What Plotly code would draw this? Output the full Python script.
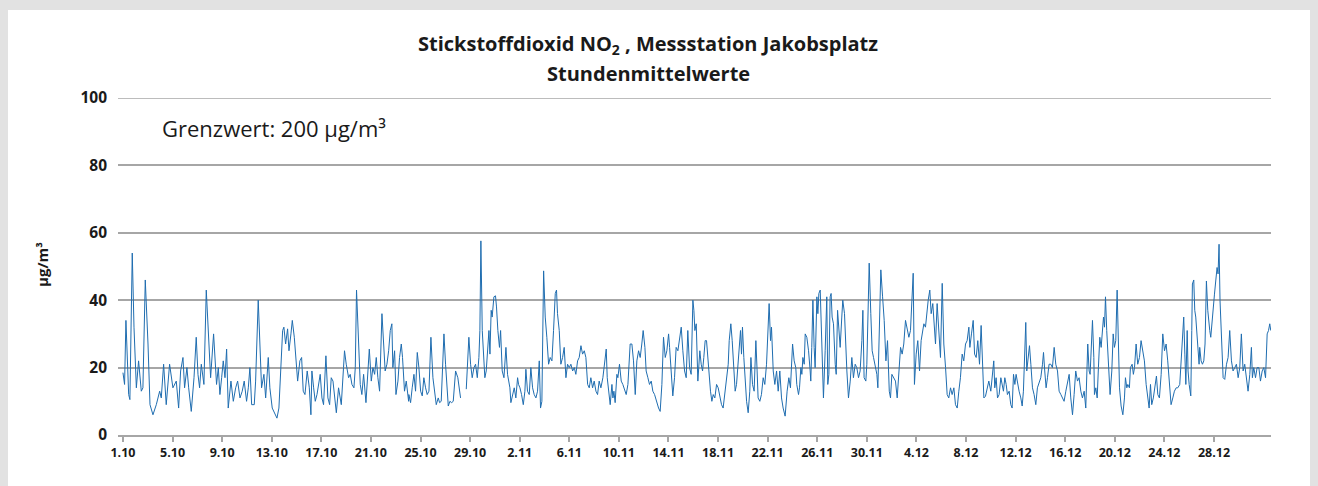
import plotly.graph_objects as go

tick_labels = ["1.10", "5.10", "9.10", "13.10", "17.10", "21.10", "25.10", "29.10",
               "2.11", "6.11", "10.11", "14.11", "18.11", "22.11", "26.11", "30.11",
               "4.12", "8.12", "12.12", "16.12", "20.12", "24.12", "28.12"]
tick_days = [0, 4, 8, 12, 16, 20, 24, 28, 32, 36, 40, 44, 48, 52, 56, 60, 64, 68, 72, 76, 80, 84, 88]

# time in days since 1.10 00:00, NO2 hourly means in µg/m³
s1_t = [0.0, 0.13, 0.24, 0.46, 0.56, 0.75, 0.89, 1.08, 1.26, 1.48, 1.61, 1.8, 2.02, 2.18, 2.42,
        2.69, 2.96, 3.09, 3.28, 3.49, 3.76, 4.03, 4.3, 4.49, 4.65, 4.84, 4.97, 5.16, 5.3, 5.51,
        5.73, 5.91, 6.05, 6.18, 6.32, 6.53, 6.72, 6.94, 7.07, 7.31]
s1_v = [18.5, 15, 34, 12, 10.5, 54, 32, 14, 22, 13, 14, 46, 27, 9, 6,
        9, 13, 11, 21, 9, 21, 14, 16, 8, 19, 23, 14, 20, 14, 7,
        17, 29, 18, 14, 21, 15, 43, 28, 17, 30]

s2_t = [7.42, 7.55, 7.69, 7.82, 7.96, 8.09, 8.23, 8.36, 8.49, 8.71, 8.9, 9.09, 9.25, 9.44, 9.62,
        9.78, 9.97, 10.11, 10.24, 10.38, 10.59, 10.70, 10.91, 11.05, 11.18, 11.37, 11.51, 11.72, 11.85, 12.04,
        12.26, 12.42, 12.58, 12.74, 12.88, 12.98, 13.12, 13.28, 13.39, 13.55, 13.66, 13.82, 13.92, 14.09, 14.27,
        14.41, 14.54, 14.68, 14.86, 15.03, 15.16]
s2_v = [21, 15, 20, 12, 17, 22, 17, 25.5, 8, 16, 10, 14, 16, 11, 13,
        16, 10, 14, 20, 9, 9, 16, 40, 28, 14, 18, 11, 23, 14, 8,
        6, 5, 8, 21, 31, 32, 27, 31.5, 25, 30, 34, 29, 23, 16, 22,
        23, 13, 12, 19, 14, 6]

s3_t = [15.24, 15.38, 15.51, 15.65, 15.78, 15.91, 16.05, 16.18, 16.37, 16.53, 16.67, 16.8, 16.94, 17.07, 17.21,
        17.39, 17.61, 17.79, 17.87, 18.01, 18.2, 18.33, 18.47, 18.63, 18.74, 18.84, 19.0, 19.14, 19.27, 19.41,
        19.6, 19.76, 19.87, 20.03, 20.16, 20.3, 20.43, 20.56, 20.7, 20.89, 21.02, 21.15, 21.29, 21.43, 21.56,
        21.69, 21.77, 21.91, 22.02, 22.18, 22.31, 22.45, 22.55, 22.71, 22.85, 23.04]
s3_v = [19, 14, 10, 12, 15, 18, 11, 9, 23.5, 11, 9, 17, 16, 11, 6.6,
        14, 9, 20, 25, 21, 17, 18, 15, 14, 20, 43, 28, 15, 12, 18,
        9.6, 19, 25.5, 16, 20, 18, 23, 17, 13, 36, 28, 19, 21, 25, 31,
        33, 20, 25, 12, 16, 23, 27, 23, 13, 16, 10]

s4_t = [23.06, 23.2, 23.33, 23.47, 23.6, 23.74, 23.87, 24.01, 24.14, 24.27, 24.41, 24.54, 24.68, 24.84, 25.0,
        25.11, 25.27, 25.43, 25.54, 25.67, 25.75, 25.89, 26.02, 26.15, 26.24, 26.37, 26.51, 26.64, 26.83, 27.01,
        27.15, 27.23, 27.45, 27.69, 27.8, 27.9, 28.04, 28.17, 28.31, 28.44, 28.58, 28.71, 28.79, 28.87, 28.98,
        29.11, 29.19, 29.3, 29.41, 29.52, 29.6, 29.7, 29.78, 29.92, 30.05, 30.13, 30.24, 30.37, 30.46, 30.59,
        30.73]
s4_v = [12, 9.6, 14, 18, 13, 24.5, 20, 13, 11.6, 17, 14, 12, 13, 29, 17,
        13, 9, 11, 9.6, 10, 19, 30, 21, 14, 8.6, 10, 9.6, 10, 19, 17,
        12, 11, None, 13.6, 23, 29, 21, 17, 20, 21, 17, 23, 31, 57.6, 31,
        20, 17, 19, 24, 31, 24, 37, 35, 41, 41.3, 38, 31, 26, 31, 19,
        17]

s5_t = [30.89, 31.02, 31.1, 31.21, 31.29, 31.42, 31.56, 31.69, 31.83, 31.91, 32.02, 32.15, 32.29, 32.42, 32.5,
        32.63, 32.77, 32.9, 33.04, 33.17, 33.31, 33.44, 33.58, 33.68, 33.79, 33.93, 34.06, 34.19, 34.33, 34.46,
        34.6, 34.73, 34.87, 34.97, 35.05, 35.19, 35.32, 35.46, 35.59, 35.73, 35.86, 36.0, 36.13, 36.27, 36.4,
        36.53, 36.67, 36.8, 36.94, 37.07, 37.21, 37.34, 37.48, 37.61, 37.74, 37.88, 38.01, 38.15, 38.28, 38.41,
        38.55]
s5_v = [26, 18, 16, 14, 9.6, 12, 14, 11, 17, 15, 14, 12, 9, 13, 19.5,
        13, 12, 20, 14, 12, 11, 13, 22, 8, 10, 48.7, 35, 29, 21, 23,
        22, 31, 42, 43, 36, 31, 21, 23, 26, 17, 21, 20, 21, 19, 20,
        18, 22, 23, 26.5, 24, 25, 23, 15, 14, 17, 14, 16, 13, 12, 16,
        14]

s6_t = [38.71, 38.84, 38.98, 39.06, 39.19, 39.3, 39.44, 39.52, 39.6, 39.7, 39.84, 39.92, 40.05, 40.19, 40.32,
        40.46, 40.59, 40.73, 40.81, 40.91, 41.05, 41.18, 41.32, 41.45, 41.59, 41.72, 41.85, 41.96, 42.1, 42.2,
        42.34, 42.47, 42.61, 42.74, 42.88, 43.01, 43.2, 43.33, 43.47, 43.6, 43.74, 43.87, 44.01, 44.09, 44.23,
        44.35, 44.49, 44.62, 44.76, 44.89, 45.03, 45.16, 45.3, 45.43, 45.56, 45.7, 45.83, 45.97, 46.05, 46.13,
        46.24, 46.37]
s6_v = [17, 21, 25.5, 17, 13, 9, 15, 11, 13, 9.6, 18, 17, 21, 16, 15,
        13, 12, 15, 21, 27, 27, 22, 12, 22, 25, 23, 27, 31, 26, 19,
        17, 15, 16, 13, 12, 10, 8, 7, 15, 29, 23, 25, 30, 26, 17,
        11.6, 17, 26, 25, 29, 32, 25, 19, 17, 31, 20, 18, 40, 37, 31,
        33, 16]

s7_t = [46.53, 46.64, 46.75, 46.85, 46.96, 47.07, 47.18, 47.28, 47.39, 47.5, 47.61, 47.74, 47.88, 48.01, 48.15,
        48.28, 48.41, 48.55, 48.68, 48.82, 48.9, 49.03, 49.14, 49.27, 49.38, 49.49, 49.62, 49.71, 49.81, 49.89,
        49.97, 50.08, 50.16, 50.3, 50.43, 50.56, 50.65, 50.78, 50.91, 51.05, 51.15, 51.23, 51.37, 51.5, 51.64,
        51.77, 51.91, 52.04, 52.12, 52.23, 52.31, 52.45, 52.58, 52.72, 52.85, 52.98, 53.12, 53.25, 53.41, 53.57,
        53.71, 53.84, 54.01, 54.14, 54.27]
s7_v = [25, 21, 19, 23, 28, 28, 22, 16, 13, 10, 12, 11, 15, 14, 11,
        9, 8, 13, 17, 21, 28, 33, 28, 19, 13, 15, 23, 26, 31, 24,
        32, 23, 18, 10, 6.6, 13, 23, 15, 13, 28, 19, 11, 10, 12, 17,
        15, 21, 31, 39, 28, 32, 19, 15, 19, 13, 19, 11, 8, 5.6, 13,
        17, 14, 27, 22, 20]

s8_t = [54.35, 54.49, 54.57, 54.68, 54.76, 54.84, 54.95, 55.03, 55.16, 55.3, 55.43, 55.48, 55.56, 55.65, 55.75,
        55.83, 55.97, 56.05, 56.13, 56.24, 56.37, 56.5, 56.64, 56.77, 56.85, 56.94, 57.04, 57.12, 57.2, 57.31,
        57.45, 57.53, 57.64, 57.74, 57.85, 57.98, 58.06, 58.2, 58.33, 58.39, 58.52, 58.66, 58.79, 58.92, 59.06,
        59.19, 59.33, 59.46, 59.6, 59.68, 59.78, 59.92, 60.0, 60.08, 60.19, 60.32, 60.43, 60.54, 60.67, 60.81,
        60.89, 61.02, 61.13, 61.27, 61.4, 61.54, 61.67, 61.81, 61.91, 62.02]
s8_v = [15, 12, 14, 20, 18, 23, 21, 30, 29, 25, 19, 16, 26, 40, 26,
        20, 41, 36, 42, 43, 27, 11, 25, 41, 15, 18, 41, 42, 35, 33,
        21, 18, 37, 31, 26, 35, 40, 36, 23, 19, 11, 16, 23, 17, 21,
        20, 17, 19, 28, 37, 17, 16, 21, 38, 51, 36, 25, 23, 20, 18,
        14, 31, 49, 41, 34, 22, 28, 13, 11, 18]

s9_t = [62.18, 62.31, 62.45, 62.58, 62.72, 62.85, 62.98, 63.12, 63.25, 63.39, 63.52, 63.66, 63.74, 63.84, 63.98,
        64.11, 64.25, 64.38, 64.52, 64.6, 64.73, 64.87, 64.95, 65.08, 65.19, 65.32, 65.4, 65.54, 65.67, 65.81,
        65.94, 66.08, 66.21, 66.35, 66.48, 66.61, 66.75, 66.88, 67.02, 67.15, 67.29, 67.42, 67.55, 67.69, 67.82,
        67.96, 68.09, 68.23, 68.31, 68.44, 68.58, 68.69, 68.82, 68.95, 69.09, 69.22, 69.33, 69.44, 69.57, 69.71,
        69.84]
s9_v = [17, 16, 11, 18, 26, 24, 27, 34, 31, 29, 31, 41, 48, 15, 24,
        28, 19, 28, 31, 33, 32, 38, 40, 43, 36, 39, 35, 27, 39, 31,
        23, 45, 27, 20, 12, 11, 14, 12, 14, 9, 8, 13, 17, 24, 22,
        27, 28, 32, 26, 30, 34, 24, 23, 28, 21, 32.5, 18, 11, 11.5, 14,
        16]

s10_t = [70.0, 70.13, 70.24, 70.32, 70.43, 70.54, 70.67, 70.81, 70.91, 71.02, 71.13, 71.24, 71.34, 71.48, 71.61,
         71.72, 71.83, 71.94, 72.04, 72.15, 72.28, 72.42, 72.53, 72.63, 72.74, 72.82, 72.9, 73.01, 73.12, 73.23,
         73.36, 73.49, 73.63, 73.76, 73.9, 74.03, 74.17, 74.25, 74.35, 74.46, 74.57, 74.7, 74.84, 74.97, 75.11,
         75.24, 75.38, 75.51, 75.65, 75.78, 75.91, 76.05, 76.18, 76.32, 76.45, 76.59, 76.72, 76.85, 76.99, 77.12,
         77.26, 77.39, 77.53, 77.66]
s10_v = [13, 18, 22, 14, 17, 11, 12, 17, 15, 13, 17, 15, 12, 13, 9,
         8, 18, 15, 18, 15, 13, 11, 8.6, 13, 23, 33.4, 19, 23, 26.5, 21,
         14, 12, 9, 14, 16, 17, 21, 24.5, 19, 14, 17, 21, 21, 20, 26,
         21, 19, 13, 12, 11, 10, 13, 15, 18, 11, 6, 12, 19, 16, 17,
         13, 11, 13, 8]

s11_t = [77.82, 77.93, 78.01, 78.09, 78.2, 78.31, 78.36, 78.47, 78.58, 78.68, 78.79, 78.9, 79.01, 79.09, 79.17,
         79.25, 79.35, 79.49, 79.62, 79.76, 79.87, 79.97, 80.08, 80.19, 80.3, 80.38, 80.51, 80.65, 80.78, 80.86,
         80.97, 81.05, 81.18, 81.26, 81.4, 81.5, 81.59, 81.72, 81.85, 81.99, 82.12, 82.26, 82.39, 82.53, 82.66,
         82.77, 82.88, 82.98, 83.11, 83.25, 83.36, 83.47, 83.6, 83.74, 83.87, 84.01, 84.14, 84.27, 84.41, 84.54,
         84.68, 84.81, 84.95, 85.08]
s11_v = [27, 19, 18, 24, 34, 23, 12, 14, 11, 20, 29, 26, 31, 35, 32,
         41, 31, 19, 12, 19, 30, 26, 28, 43, 21, 14, 8.6, 6, 11, 17,
         14, 15, 14, 20, 21, 18, 20, 27, 21, 23, 28, 25, 22, 15, 11,
         8, 15, 9, 11, 15, 17.5, 12, 11, 18, 30, 25, 27, 22, 15, 9,
         11, 13, 14, 14]

s12_t = [85.24, 85.38, 85.46, 85.56, 85.65, 85.73, 85.84, 85.91, 86.0, 86.05, 86.13, 86.21, 86.26, 86.37, 86.45,
         86.53, 86.64, 86.72, 86.8, 86.85, 86.96, 87.07, 87.18, 87.28, 87.39, 87.5, 87.58, 87.66, 87.74, 87.82,
         87.93, 88.04, 88.15, 88.25, 88.33, 88.41, 88.49, 88.6, 88.74, 88.87, 89.01, 89.14, 89.27, 89.41, 89.54,
         89.68, 89.81, 89.95, 90.08, 90.21, 90.35, 90.48, 90.62, 90.75, 90.89, 91.02, 91.1, 91.21, 91.35, 91.48,
         91.62, 91.75, 91.89, 92.02, 92.16, 92.29, 92.4, 92.5, 92.58]
s12_v = [15, 23, 29, 35, 24, 15, 31, 19, 15, 13, 11.6, 31, 44.8, 46, 37,
         35, 28, 25, 21, 26, 22, 21, 22, 27, 45.7, 37, 33, 31, 29, 33,
         37, 41.8, 46, 49.7, 47.8, 56.6, 39.8, 27, 17, 16.5, 21, 23, 31, 22, 19,
         20, 21, 17, 20, 30, 19, 21, 17, 13, 18, 26, 17, 20, 17, 20,
         20, 16, 19, 20, 17, 30, 31, 33, 31]

segments_t = [s1_t, s2_t, s3_t, s4_t, s5_t, s6_t, s7_t, s8_t, s9_t, s10_t, s11_t, s12_t]
segments_v = [s1_v, s2_v, s3_v, s4_v, s5_v, s6_v, s7_v, s8_v, s9_v, s10_v, s11_v, s12_v]
t_days, no2 = [], []
for st, sv in zip(segments_t, segments_v):
    n = min(len(st), len(sv))
    t_days += st[:n]
    no2 += sv[:n]

y_max = 100
y_step = 20

# ---- layout geometry (pixels) ----
W, H = 1318, 486
L, R, T, B = 118, 47, 98, 51
pw, ph = W - L - R, H - T - B
def px(x):
    return (x - L) / pw
def py(y):
    return (H - B - y) / ph

FONT = "Open Sans"
TXT = "#1a1a1a"
GRID = "#a6a6a6"
FRAME = "#e2e2e2"

fig = go.Figure()
fig.add_trace(go.Scatter(x=t_days, y=no2, mode="lines",
                         line=dict(color="#1f6db0", width=1),
                         connectgaps=False, hoverinfo="skip", showlegend=False))

fig.update_layout(
    width=W, height=H,
    margin=dict(l=L, r=R, t=T, b=B),
    paper_bgcolor=FRAME,
    plot_bgcolor="white",
    font=dict(family=FONT, color=TXT),
    showlegend=False,
    xaxis=dict(range=[-0.4, 92.6], showgrid=False, zeroline=False,
               showline=True, linecolor=GRID, linewidth=1.5,
               ticks="outside", ticklen=5, tickcolor=GRID, tickwidth=1.5,
               tickvals=tick_days, ticktext=tick_labels,
               tickfont=dict(family=FONT, size=12.5, color=TXT, weight="bold")),
    yaxis=dict(range=[0, y_max], dtick=y_step, showgrid=True, gridcolor=GRID, gridwidth=1.5,
               zeroline=False, showline=False, ticks="",
               ticklabelstandoff=10,
               tickfont=dict(family=FONT, size=15.5, color=TXT, weight="bold")),
    shapes=[
        dict(type="rect", xref="paper", yref="paper",
             x0=px(8), x1=px(1310), y0=py(500), y1=py(10),
             fillcolor="white", line=dict(width=0), layer="below"),
        # top gridline (plotly skips the gridline lying on the plot edge)
        dict(type="line", xref="paper", yref="y", x0=0, x1=1, y0=y_max, y1=y_max,
             line=dict(color=GRID, width=1.5), layer="below"),
    ],
    annotations=[
        dict(text="Stickstoffdioxid NO<sub>2</sub> , Messstation Jakobsplatz",
             xref="paper", yref="paper", x=px(648), y=py(44), xanchor="center", yanchor="middle",
             showarrow=False, align="center",
             font=dict(family=FONT, size=20, color=TXT, weight="bold")),
        dict(text="Stundenmittelwerte",
             xref="paper", yref="paper", x=px(648), y=py(73), xanchor="center", yanchor="middle",
             showarrow=False, align="center",
             font=dict(family=FONT, size=20, color=TXT, weight="bold")),
        dict(text="Grenzwert: 200 µg/m³", xref="paper", yref="paper",
             x=px(160), y=py(128), xanchor="left", yanchor="middle", showarrow=False,
             font=dict(family=FONT, size=22, color=TXT)),
        dict(text="µg/m³", xref="paper", yref="paper", x=px(42), y=py(265),
             xanchor="center", yanchor="middle", textangle=-90, showarrow=False,
             font=dict(family=FONT, size=15, color=TXT, weight="bold")),
    ],
)

fig.write_html("out.html",
               config={"displayModeBar": False},
               post_script="document.body.style.margin='0';"
                           "document.body.style.background='" + FRAME + "';")
